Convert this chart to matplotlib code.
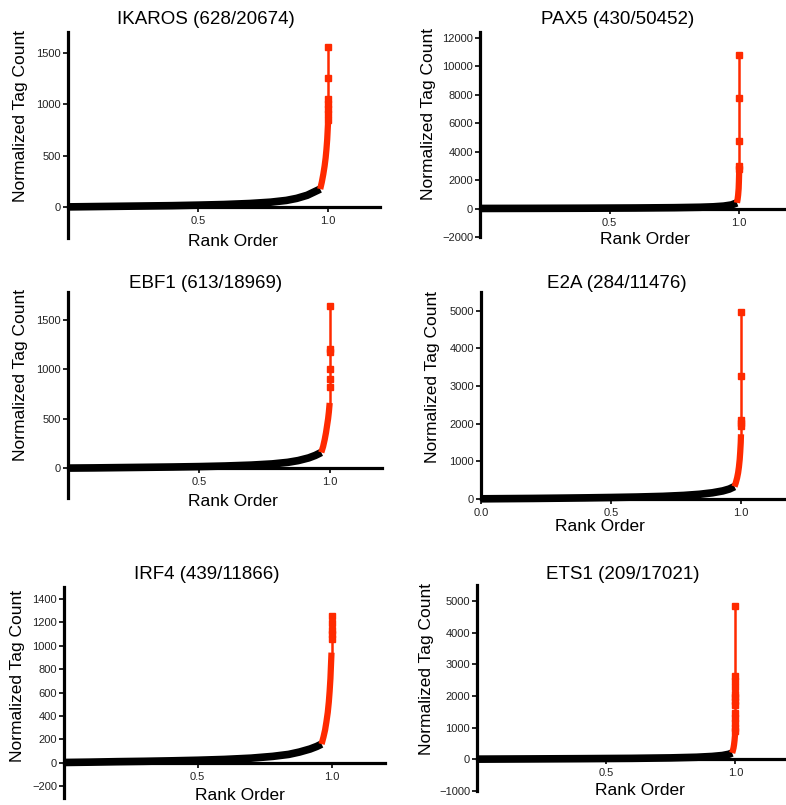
import matplotlib.pyplot as plt
import numpy as np

plt.rcParams['font.family'] = ['Liberation Sans', 'DejaVu Sans']

RED = '#ff2a00'

titles = ["IKAROS (628/20674)", "PAX5 (430/50452)", "EBF1 (613/18969)",
          "E2A (284/11476)", "IRF4 (439/11866)", "ETS1 (209/17021)"]

# IKAROS
ik_black_x = [0.0, 0.1, 0.2, 0.3, 0.4, 0.5, 0.6, 0.7, 0.78, 0.84, 0.88, 0.92, 0.945, 0.97]
ik_black_y = [2, 5, 8, 11, 14, 19, 25, 35, 48, 65, 85, 115, 145, 175]
ik_red_x = [0.97, 0.976, 0.982, 0.987, 0.991, 0.994, 0.997, 0.999, 1.0]
ik_red_y = [175, 240, 320, 400, 480, 560, 660, 760, 810]
ik_top_y = [850, 900, 950, 1000, 1050, 1250, 1550]

# PAX5
px_black_x = [0.0, 0.2, 0.4, 0.6, 0.75, 0.85, 0.9, 0.94, 0.97, 0.9915]
px_black_y = [5, 12, 22, 38, 60, 90, 120, 170, 250, 400]
px_red_x = [0.9915, 0.994, 0.996, 0.998, 0.999, 0.9996, 1.0]
px_red_y = [400, 650, 950, 1400, 1900, 2300, 2600]
px_top_y = [2800, 3000, 4770, 7740, 10800]

# EBF1
eb_black_x = [0.0, 0.1, 0.2, 0.3, 0.4, 0.5, 0.6, 0.7, 0.78, 0.84, 0.88, 0.92, 0.945, 0.968]
eb_black_y = [2, 4, 7, 10, 13, 17, 23, 32, 44, 60, 78, 105, 130, 160]
eb_red_x = [0.968, 0.975, 0.981, 0.986, 0.99, 0.994, 0.997, 0.999, 1.0]
eb_red_y = [160, 220, 290, 360, 430, 500, 570, 630, 660]
eb_top_y = [820, 900, 1000, 1170, 1200, 1640]

# E2A
e2_black_x = [0.0, 0.1, 0.2, 0.3, 0.4, 0.5, 0.6, 0.7, 0.78, 0.84, 0.89, 0.93, 0.955, 0.975]
e2_black_y = [5, 10, 15, 22, 30, 40, 52, 70, 95, 125, 165, 215, 265, 330]
e2_red_x = [0.975, 0.98, 0.985, 0.989, 0.992, 0.995, 0.997, 0.999, 1.0]
e2_red_y = [330, 430, 560, 700, 850, 1050, 1250, 1500, 1720]
e2_top_y = [1950, 2020, 2100, 3280, 4960]

# IRF4
ir_black_x = [0.0, 0.1, 0.2, 0.3, 0.4, 0.5, 0.6, 0.7, 0.78, 0.84, 0.88, 0.92, 0.945, 0.963]
ir_black_y = [3, 6, 10, 13, 17, 22, 29, 40, 55, 72, 92, 118, 140, 160]
ir_red_x = [0.963, 0.97, 0.976, 0.981, 0.986, 0.99, 0.993, 0.996, 0.998, 1.0]
ir_red_y = [160, 220, 280, 350, 430, 520, 610, 720, 830, 940]
ir_top_y = [1060, 1100, 1130, 1195, 1255]

# ETS1
et_black_x = [0.0, 0.2, 0.4, 0.6, 0.75, 0.85, 0.91, 0.95, 0.975, 0.9877]
et_black_y = [5, 12, 20, 30, 45, 65, 90, 120, 160, 200]
et_red_x = [0.9877, 0.99, 0.993, 0.995, 0.997, 0.9985, 1.0]
et_red_y = [200, 260, 360, 460, 600, 750, 860]
et_top_y = [900, 1000, 1150, 1300, 1450, 1700, 1850, 1960, 2070, 2270, 2480, 2640, 4840]

yticks = [[0, 500, 1000, 1500],
          list(range(-2000, 12001, 2000)),
          [0, 500, 1000, 1500],
          list(range(0, 5001, 1000)),
          list(range(-200, 1401, 200)),
          list(range(-1000, 5001, 1000))]
ylims = [(-300, 1700), (-2000, 12400), (-300, 1780), (0, 5500), (-300, 1500), (-1000, 5500)]
xticks = [[0.5, 1.0], [0.5, 1.0], [0.5, 1.0], [0.0, 0.5, 1.0], [0.5, 1.0], [0.5, 1.0]]

# axes boxes in pixels: left, top, width, height
boxes = [(68, 32, 312, 206), (480, 32, 311, 205), (68, 292, 314, 206),
         (481, 292, 312, 207), (64, 587, 321, 211), (477, 585, 310, 206)]
title_pos = [(206, 20), (618, 20), (206, 283), (617, 283), (207, 574), (623, 574)]
ylab_pos = [(21, 116), (429, 114), (21, 375), (433, 377), (18, 676), (426, 669)]
xlab_pos = [(233, 241), (645, 240), (233, 501), (600, 526), (240, 795), (640, 790)]

panels = [(ik_black_x, ik_black_y, ik_red_x, ik_red_y, ik_top_y),
          (px_black_x, px_black_y, px_red_x, px_red_y, px_top_y),
          (eb_black_x, eb_black_y, eb_red_x, eb_red_y, eb_top_y),
          (e2_black_x, e2_black_y, e2_red_x, e2_red_y, e2_top_y),
          (ir_black_x, ir_black_y, ir_red_x, ir_red_y, ir_top_y),
          (et_black_x, et_black_y, et_red_x, et_red_y, et_top_y)]

W, H = 786, 805
fig = plt.figure(figsize=(W/100, H/100), dpi=100)

for i, (bx, by, rx, ry, top) in enumerate(panels):
    l, t, w, h = boxes[i]
    ax = fig.add_axes([l/W, 1-(t+h)/H, w/W, h/H])
    ax.plot(bx, by, color='black', lw=5.5, solid_capstyle='butt', zorder=3, clip_on=False)
    ax.plot(rx, ry, color=RED, lw=4.5, solid_capstyle='butt', zorder=4)
    tx = [rx[-1]] + [1.0]*len(top)
    ty = [ry[-1]] + top
    ax.plot(tx, ty, color=RED, lw=1.8, zorder=4)
    ax.plot([1.0]*len(top), top, 's', color=RED, ms=4.5, zorder=5)
    ax.set_xlim(0, 1.2)
    ax.set_ylim(*ylims[i])
    ax.spines['top'].set_visible(False)
    ax.spines['right'].set_visible(False)
    ax.spines['bottom'].set_position(('data', 0))
    for s in ['left', 'bottom']:
        ax.spines[s].set_linewidth(2.3)
    ax.set_yticks(yticks[i])
    ax.set_xticks(xticks[i])
    ax.set_xticklabels(['%.1f' % v for v in xticks[i]])
    ax.tick_params(direction='out', length=3.5, width=1.2, labelsize=8,
                   labelcolor='#222222', pad=1.5)
    ax.tick_params(axis='x', pad=3)
    ax.patch.set_visible(False)

    fig.text(title_pos[i][0]/W, 1-title_pos[i][1]/H, titles[i], fontsize=13.5,
             ha='center', va='center')
    fig.text(ylab_pos[i][0]/W, 1-ylab_pos[i][1]/H, "Normalized Tag Count", fontsize=12.5,
             ha='center', va='center', rotation=90)
    fig.text(xlab_pos[i][0]/W, 1-xlab_pos[i][1]/H, "Rank Order", fontsize=12.5,
             ha='center', va='center')

fig.savefig("out.png", dpi=100)
